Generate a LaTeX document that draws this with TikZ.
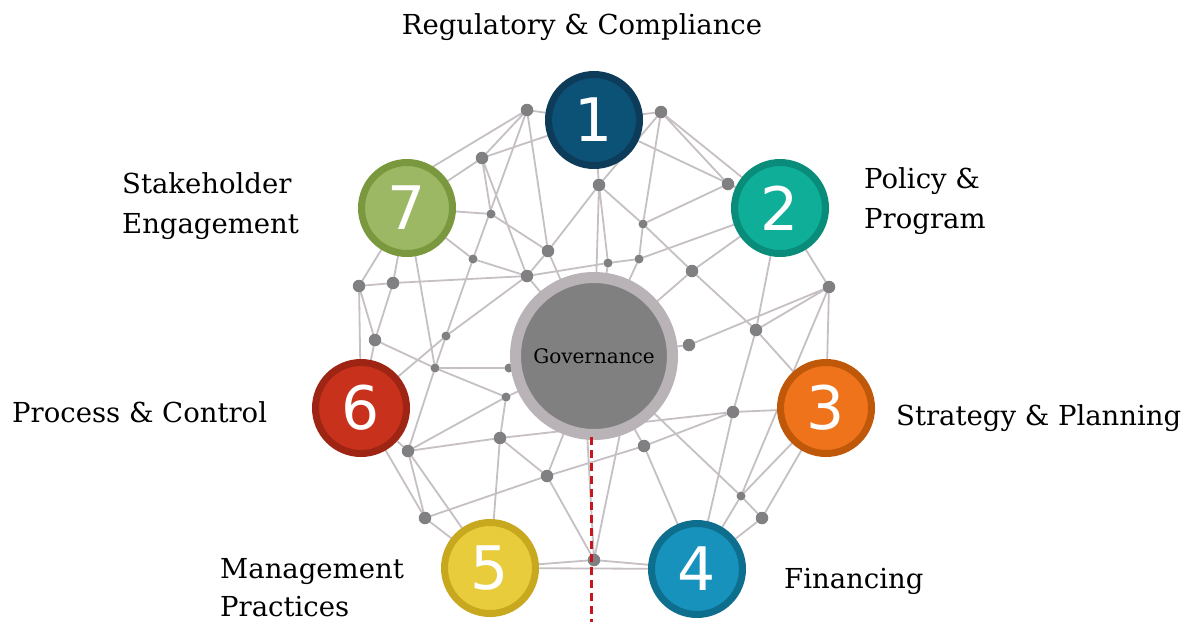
\documentclass[tikz,border=0pt]{standalone}
\usepackage{fontspec}
\setmainfont{DejaVu Serif}
\newfontfamily\numfont{DejaVu Sans}
\pgfdeclarelayer{canvas}
\pgfdeclarelayer{bg}
\pgfsetlayers{canvas,bg,main}

\definecolor{linkgray}{RGB}{198,192,196}
\definecolor{dotgray}{RGB}{128,128,130}
\definecolor{ringgray}{RGB}{185,178,182}
\definecolor{coregray}{RGB}{128,128,128}
\definecolor{dashred}{RGB}{200,22,30}
\definecolor{oneD}{RGB}{12,60,90}\definecolor{oneL}{RGB}{12,82,118}
\definecolor{twoD}{RGB}{10,140,122}\definecolor{twoL}{RGB}{14,174,152}
\definecolor{threeD}{RGB}{192,88,10}\definecolor{threeL}{RGB}{239,115,26}
\definecolor{fourD}{RGB}{14,110,142}\definecolor{fourL}{RGB}{22,146,188}
\definecolor{fiveD}{RGB}{200,168,30}\definecolor{fiveL}{RGB}{232,204,60}
\definecolor{sixD}{RGB}{158,36,20}\definecolor{sixL}{RGB}{200,50,28}
\definecolor{sevenD}{RGB}{122,152,62}\definecolor{sevenL}{RGB}{156,184,100}

\begin{document}
\begin{tikzpicture}[x=1pt,y=-1pt,
  link/.style={draw=linkgray, line width=1.8pt},
  dot/.style={circle, fill=dotgray, inner sep=0pt, outer sep=0pt, minimum size=12.5pt},
  sdot/.style={dot, minimum size=9pt},
  stage/.style={circle, inner sep=0pt, outer sep=0pt, minimum size=91pt,
    line width=7pt, text=white, font=\numfont\fontsize{60}{60}\selectfont},
  hub/.style={circle, inner sep=0pt, outer sep=0pt, minimum size=157pt,
    line width=11pt, draw=ringgray, fill=coregray,
    font=\fontsize{20}{22}\selectfont, text=black},
  lab/.style={inner sep=0pt, anchor=base west, text=black,
    font=\fontsize{27.5}{32}\selectfont},
  reddash/.style={draw=dashred, line width=3pt, dash pattern=on 8pt off 5pt}]

\useasboundingbox (0,0) rectangle (1187,622);
\begin{pgfonlayer}{canvas}
\fill[white] (0,0) rectangle (1187,622);
\end{pgfonlayer}

% network junctions
\node[dot]  (d1)  at (527,110) {};
\node[dot]  (d2)  at (661,112) {};
\node[dot]  (d3)  at (482,158) {};
\node[dot]  (d4)  at (599,185) {};
\node[dot]  (d5)  at (728,184) {};
\node[sdot] (d6)  at (491,214) {};
\node[sdot] (d7)  at (643,224) {};
\node[dot]  (d8)  at (548,251) {};
\node[sdot] (d9)  at (608,263) {};
\node[sdot] (d10) at (639,259) {};
\node[dot]  (d11) at (692,271) {};
\node[sdot] (d12) at (473,259) {};
\node[dot]  (d13) at (527,276) {};
\node[dot]  (d14) at (393,283) {};
\node[dot]  (d15) at (359,286) {};
\node[dot]  (d16) at (829,287) {};
\node[dot]  (d17) at (756,330) {};
\node[dot]  (d18) at (689,345) {};
\node[dot]  (d19) at (375,340) {};
\node[sdot] (d20) at (446,336) {};
\node[sdot] (d21) at (435,368) {};
\node[sdot] (d22) at (509,368) {};
\node[sdot] (d23) at (506,397) {};
\node[dot]  (d24) at (500,438) {};
\node[dot]  (d25) at (408,451) {};
\node[dot]  (d26) at (733,412) {};
\node[dot]  (d27) at (644,446) {};
\node[dot]  (d28) at (547,476) {};
\node[sdot] (d29) at (741,496) {};
\node[dot]  (d30) at (762,518) {};
\node[dot]  (d31) at (425,518) {};
\node[dot]  (d32) at (594,560) {};

% central hub
\node[hub] (G) at (594,356) {Governance};

% numbered stages
\node[stage, draw=oneD,   fill=oneL]   (n1) at (594,120) {1};
\node[stage, draw=twoD,   fill=twoL]   (n2) at (780,208) {2};
\node[stage, draw=threeD, fill=threeL] (n3) at (826,408) {3};
\node[stage, draw=fourD,  fill=fourL]  (n4) at (697,569) {4};
\node[stage, draw=fiveD,  fill=fiveL]  (n5) at (490,568) {5};
\node[stage, draw=sixD,   fill=sixL]   (n6) at (361,408) {6};
\node[stage, draw=sevenD, fill=sevenL] (n7) at (407,208) {7};

% mesh of links behind everything
\begin{pgfonlayer}{bg}
\draw[link]
  (d1)--(n1) (d1)--(n7.60) (d1)--(d3) (d1)--(d12) (d1)--(d8)
  (d2)--(n1) (d2)--(n2) (d2)--(d5) (d2)--(d4) (d2)--(d7) (d7)--(d10)
  (d3)--(n7) (d3)--(n1) (d3)--(d6) (d3)--(d13)
  (n1)--(n2) (n1)--(d4)
  (d4)--(d8) (d4)--(d7) (d4)--(d9) (d4)--(G)
  (d5)--(n2) (d5)--(d7)
  (d6)--(n7) (d6)--(d8)
  (d7)--(d11)
  (d8)--(d13) (d8)--(G)
  (d9)--(G) (d13)--(d9) (d9)--(d10) (d10)--(n2) (d10)--(G)
  (d11)--(n2) (d11)--(d17) (d11)--(G)
  (d12)--(n7) (d12)--(d13) (d12)--(d20)
  (d13)--(d14) (d13)--(d20) (d13)--(G)
  (d14)--(d15) (d14)--(n7) (d14)--(d19)
  (d15)--(n7) (d15)--(d19) (d15)--(n6)
  (d16)--(n2) (d16)--(d17) (d16)--(n3) (d16)--(d29) (d16)--(d18)
  (d17)--(n2) (d17)--(d26) (d17)--(n3)
  (d18)--(G)
  (d19)--(n6) (d19)--(d21)
  (d20)--(d21) (d20)--(n6)
  (d21)--(n7) (d21)--(d22) (d21)--(d23) (d21)--(d25)
  (d22)--(G)
  (d23)--(d24) (d23)--(d25) (d23)--(G)
  (d24)--(d25) (d24)--(n5) (d24)--(d26) (d24)--(d28)
  (d25)--(n6) (d25)--(d31) (d25)--(n5)
  (d26)--(n3) (d26)--(d27) (d26)--(n4)
  (d27)--(d28) (d27)--(n4) (d27)--(G)
  (d28)--(d31) (d28)--(d32) (d28)--(G)
  (G)--(d29) (d29)--(d30) (d29)--(n3) (d29)--(n4)
  (d30)--(n3) (d30)--(n4)
  (d31)--(n5) (d31)--(n6)
  (d32)--(n5) (d32)--(n4) (d32)--(G.265) (d32)--(G.290)
  (n5)--(n4);
\end{pgfonlayer}

% vertical marker below the hub
\coordinate (dtop) at (591,437);
\coordinate (dbot) at (591,622);
\draw[reddash] (dtop) -- (dbot);

% captions
\node[lab, anchor=base] (t1) at (582,34) {Regulatory \& Compliance};
\node[lab] (t2a) at (864,188) {Policy \&};
\node[lab] (t2b) at (864,228) {Program};
\node[lab] (t3)  at (896,425) {Strategy \& Planning};
\node[lab] (t4)  at (784,588) {Financing};
\node[lab] (t5a) at (220,578) {Management};
\node[lab] (t5b) at (220,616) {Practices};
\node[lab] (t6)  at (12,422)  {Process \& Control};
\node[lab] (t7a) at (122,193) {Stakeholder};
\node[lab] (t7b) at (122,233) {Engagement};
\end{tikzpicture}
\end{document}
